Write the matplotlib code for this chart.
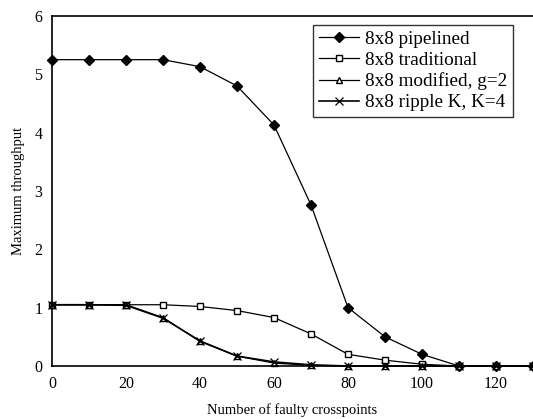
import matplotlib.pyplot as plt

faults = [0, 10, 20, 30, 40, 50, 60, 70, 80, 90, 100, 110, 120, 130]
pipelined = [5.25, 5.25, 5.25, 5.25, 5.13, 4.80, 4.13, 2.76, 1.00, 0.50, 0.20, 0.0, 0.0, 0.0]
traditional = [1.05, 1.05, 1.05, 1.05, 1.02, 0.95, 0.83, 0.55, 0.20, 0.10, 0.03, 0.0, 0.0, 0.0]
modified = [1.05, 1.05, 1.05, 0.83, 0.42, 0.17, 0.05, 0.01, 0.0, 0.0, 0.0, 0.0, 0.0, 0.0]
ripple = [1.05, 1.05, 1.04, 0.82, 0.43, 0.17, 0.07, 0.02, 0.0, 0.0, 0.0, 0.0, 0.0, 0.0]

plt.rcParams['font.family'] = ['Liberation Serif', 'DejaVu Serif']

fig = plt.figure(figsize=(5.33, 4.19), dpi=100)
ax = fig.add_axes([0.0976, 0.1265, 0.9024, 0.8355])

ax.plot(faults, pipelined, color='black', lw=0.9, marker='D', ms=5.5,
        mfc='black', mec='black', label='8x8 pipelined', clip_on=False)
ax.plot(faults, traditional, color='black', lw=0.9, marker='s', ms=5,
        mfc='white', mec='black', label='8x8 traditional', clip_on=False)
ax.plot(faults, modified, color='black', lw=0.9, marker='^', ms=5,
        mfc='white', mec='black', label='8x8 modified, g=2', clip_on=False)
ax.plot(faults, ripple, color='black', lw=1.2, marker='x', ms=6, mew=0.9,
        label='8x8 ripple K, K=4', clip_on=False)

ax.set_xlim(0, 130)
ax.set_ylim(0, 6)
ax.set_xticks([0, 20, 40, 60, 80, 100, 120])
ax.set_yticks([0, 1, 2, 3, 4, 5, 6])
ax.tick_params(length=0, labelsize=11.5, pad=7)
ax.spines['right'].set_visible(False)
for s in ['left', 'bottom', 'top']:
    ax.spines[s].set_linewidth(1.2)

ax.set_xlabel('Number of faulty crosspoints', fontsize=10.5, labelpad=8)
ax.set_ylabel('Maximum throughput', fontsize=10.5, labelpad=7)

leg = ax.legend(loc='upper right', bbox_to_anchor=(0.958, 0.974), fontsize=13.8,
                frameon=True, fancybox=False, edgecolor='black',
                handlelength=2.1, handletextpad=0.3, borderpad=0.3,
                labelspacing=0.18, borderaxespad=0, markerscale=0.85)
leg.get_frame().set_linewidth(1)

fig.savefig('out.png', dpi=100)
